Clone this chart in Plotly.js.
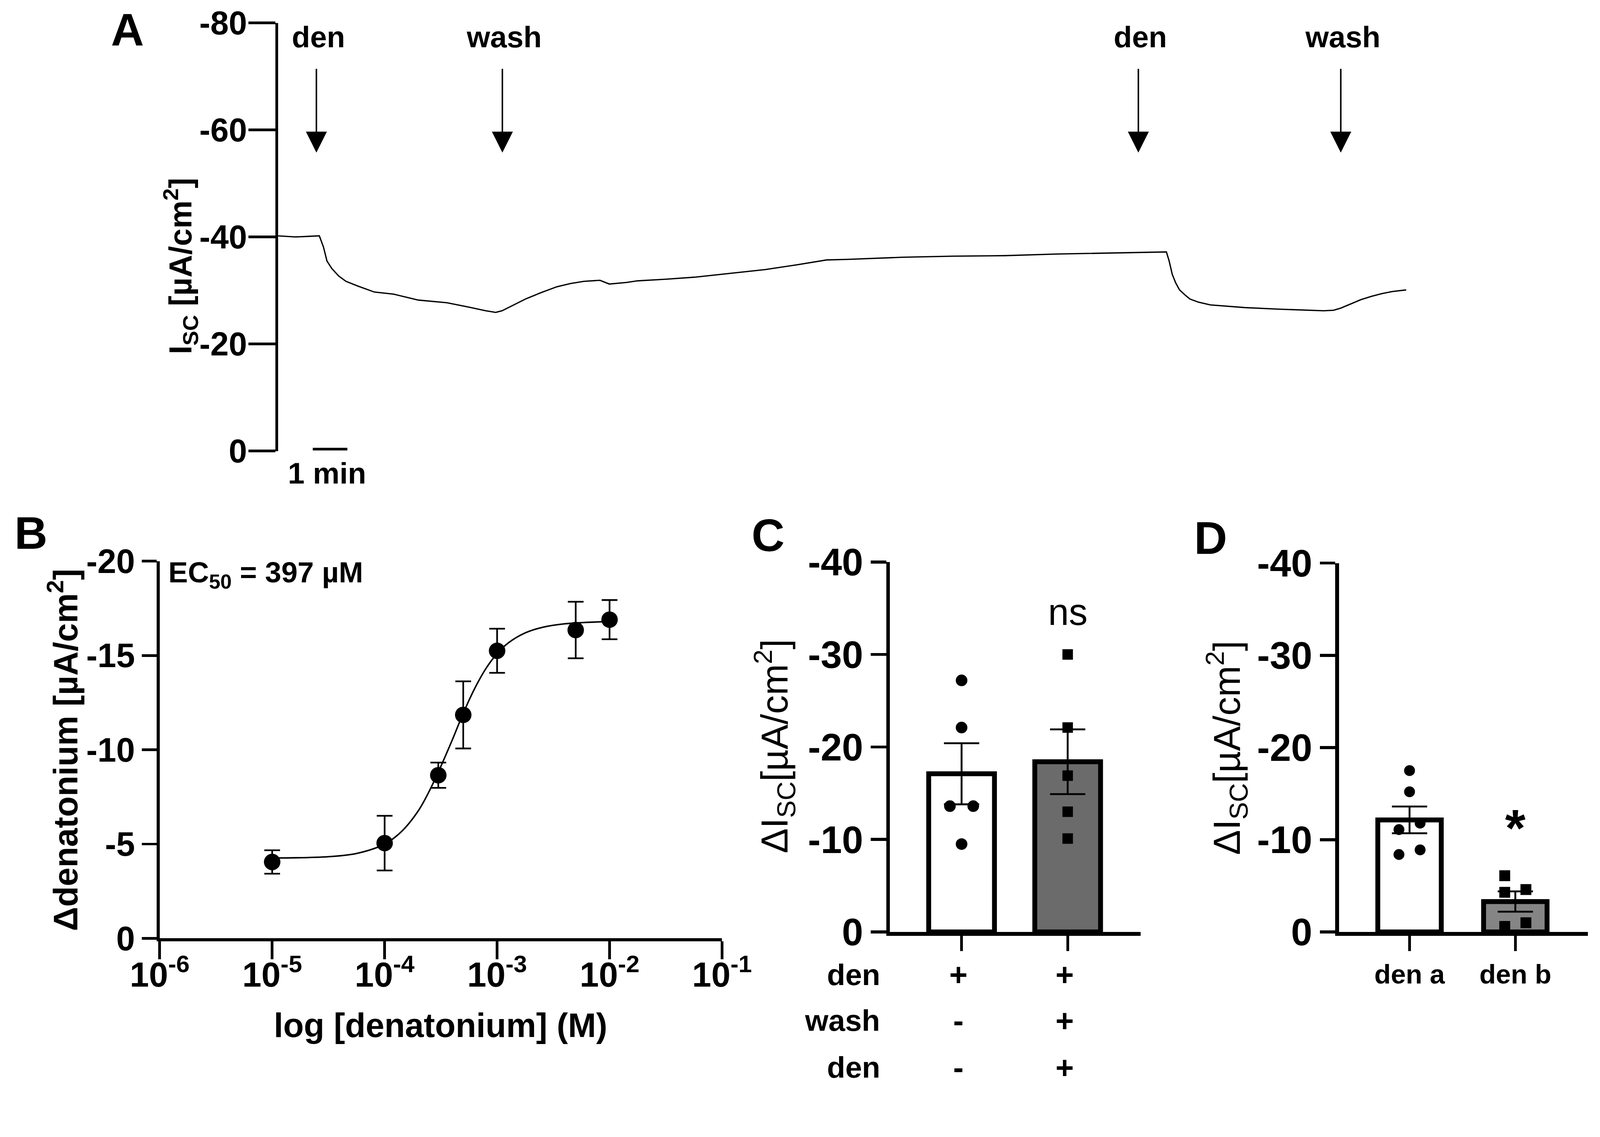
<!DOCTYPE html>
<html><head><meta charset="utf-8">
<script src="https://cdn.plot.ly/plotly-3.0.1.min.js"></script>
<style>html,body{margin:0;padding:0;background:#fff;overflow:hidden}</style>
</head><body><div id="chart"></div>
<script>
// ---------- Panel A: Isc trace ----------
const traceTime = [0, 0.5, 0.85, 1.19, 1.31, 1.41, 1.55, 1.75, 1.96, 2.31, 2.78, 3.34, 4.05, 4.88, 5.5, 6.0, 6.29, 6.47, 7.15, 7.6, 8.06, 8.45, 8.83, 9.3, 9.57, 10.07, 10.39, 11.2, 12.07, 13.1, 14.08, 15.0, 15.85, 16.44, 18.03, 19.5, 21.01, 22.5, 23.99, 25.0, 25.67, 25.75, 25.84, 25.94, 26.05, 26.2, 26.35, 26.6, 26.94, 27.94, 28.94, 30.21, 30.5, 30.71, 31.0, 31.3, 31.6, 31.89, 32.2, 32.6];
const traceIsc = [-40.2, -40.0, -40.1, -40.2, -38.1, -35.5, -34.1, -32.7, -31.7, -30.8, -29.7, -29.3, -28.2, -27.7, -26.9, -26.2, -25.9, -26.2, -28.4, -29.6, -30.7, -31.3, -31.7, -31.9, -31.2, -31.5, -31.8, -32.1, -32.5, -33.2, -33.9, -34.8, -35.7, -35.8, -36.2, -36.4, -36.5, -36.8, -37.0, -37.1, -37.2, -35.5, -33.0, -31.4, -30.1, -29.2, -28.4, -27.8, -27.3, -26.8, -26.5, -26.2, -26.3, -26.7, -27.5, -28.3, -28.9, -29.4, -29.8, -30.1];
const eventTimes = [1.105, 6.48, 24.86, 30.71];
const eventLabels = ['den', 'wash', 'den', 'wash'];
const aTickVals = [0, -20, -40, -60, -80];
const aTickText = ['0', '-20', '-40', '-60', '-80'];

// ---------- Panel B: dose response ----------
const bConc = [1e-5, 1e-4, 3e-4, 5e-4, 1e-3, 5e-3, 1e-2];
const bMean = [-4.05, -5.05, -8.65, -11.85, -15.25, -16.35, -16.9];
const bSem = [0.62, 1.45, 0.67, 1.78, 1.17, 1.5, 1.04];
const fitConc = [1e-5, 3.16e-5, 5.62e-5, 1e-4, 1.41e-4, 2e-4, 2.51e-4, 3.16e-4, 3.98e-4, 5.01e-4, 6.31e-4, 7.94e-4, 1e-3, 1.26e-3, 1.78e-3, 2.51e-3, 3.98e-3, 1e-2];
const fitVal = [-4.26, -4.33, -4.5, -5.0, -5.66, -6.78, -7.84, -9.12, -10.5, -11.95, -13.24, -14.3, -15.1, -15.67, -16.2, -16.49, -16.68, -16.8];
const bXTickVals = [1e-6, 1e-5, 1e-4, 1e-3, 1e-2, 1e-1];
const bXTickText = ['10<sup>-6</sup>', '10<sup>-5</sup>', '10<sup>-4</sup>', '10<sup>-3</sup>', '10<sup>-2</sup>', '10<sup>-1</sup>'];
const bYTickVals = [0, -5, -10, -15, -20];
const bYTickText = ['0', '-5', '-10', '-15', '-20'];

// ---------- Panel C ----------
const cMean = [-17.1, -18.4];
const cSem = [3.3, 3.5];
const cPoints1 = [-27.2, -22.1, -13.6, -13.6, -9.5];
const cPoints2 = [-30.0, -22.1, -16.9, -13.0, -10.1];
const cRowLabels = ['den', 'wash', 'den'];
const cCond1 = ['+', '-', '-'];
const cCond2 = ['+', '+', '+'];

// ---------- Panel D ----------
const dLabels = ['den a', 'den b'];
const dMean = [-12.15, -3.3];
const dSem = [1.45, 1.1];
const dPointsA = [-17.5, -15.2, -11.8, -11.1, -8.9, -8.4];
const dPointsB = [-6.1, -4.6, -4.3, -1.0, -0.6];

const cdTickVals = [0, -10, -20, -30, -40];
const cdTickText = ['0', '-10', '-20', '-30', '-40'];

// ---------- helpers ----------
const W = 4268, H = 2911;
const vw = window.innerWidth || W, vh = window.innerHeight || H;
const k = Math.min(vw / W, vh / H);          // fit the design to the real viewport
const S = v => v * k;
const fx = x => x / W, fy = y => 1 - y / H;
const FONT = 'Liberation Sans, Arial, Helvetica, sans-serif';
const fnt = (size, bold) => bold ? {size: S(size), family: FONT, color: 'black', weight: 'bold'}
                                 : {size: S(size), family: FONT, color: 'black'};

// simple beeswarm-like jitter: near values spread left/right
function jitter(vals, center, off, tol) {
  const idx = vals.map((v, i) => i).sort((a, b) => Math.abs(vals[a]) - Math.abs(vals[b]));
  const xs = new Array(vals.length).fill(center);
  let clusters = [], cur = [idx[0]];
  for (let j = 1; j < idx.length; j++) {
    if (Math.abs(Math.abs(vals[idx[j]]) - Math.abs(vals[idx[j - 1]])) <= tol) cur.push(idx[j]);
    else { clusters.push(cur); cur = [idx[j]]; }
  }
  clusters.push(cur);
  clusters.forEach(c => {
    if (c.length > 1) c.forEach((i, j) => { xs[i] = center + (j % 2 === 0 ? -off : off); });
  });
  return xs;
}

const traces = [];
// A
traces.push({x: traceTime, y: traceIsc, xaxis: 'x', yaxis: 'y', mode: 'lines',
  line: {color: 'black', width: S(3.5)}, hoverinfo: 'skip'});
// B
traces.push({x: fitConc, y: fitVal, xaxis: 'x2', yaxis: 'y2', mode: 'lines',
  line: {color: 'black', width: S(4), shape: 'spline'}, hoverinfo: 'skip'});
traces.push({x: bConc, y: bMean, xaxis: 'x2', yaxis: 'y2', mode: 'markers',
  marker: {color: 'black', size: S(44), symbol: 'circle'},
  error_y: {type: 'data', array: bSem, visible: true, color: 'black', thickness: S(4.5), width: S(21)},
  cliponaxis: false, hoverinfo: 'skip'});
// C
traces.push({type: 'bar', x: [0, 1], y: cMean, width: 0.62, xaxis: 'x3', yaxis: 'y3',
  marker: {color: ['#ffffff', '#6b6b6b'], line: {color: 'black', width: S(13)}},
  error_y: {type: 'data', array: cSem, visible: true, color: 'black', thickness: S(5), width: S(47)},
  hoverinfo: 'skip'});
traces.push({x: jitter(cPoints1, 0, 0.11, 1.6), y: cPoints1, xaxis: 'x3', yaxis: 'y3', mode: 'markers',
  marker: {color: 'black', size: S(31), symbol: 'circle'}, cliponaxis: false, hoverinfo: 'skip'});
traces.push({x: jitter(cPoints2, 1, 0.11, 1.6), y: cPoints2, xaxis: 'x3', yaxis: 'y3', mode: 'markers',
  marker: {color: 'black', size: S(28), symbol: 'square'}, cliponaxis: false, hoverinfo: 'skip'});
// D
traces.push({type: 'bar', x: [0, 1], y: dMean, width: 0.6, xaxis: 'x4', yaxis: 'y4',
  marker: {color: ['#ffffff', '#858585'], line: {color: 'black', width: S(13)}},
  error_y: {type: 'data', array: dSem, visible: true, color: 'black', thickness: S(5), width: S(47)},
  hoverinfo: 'skip'});
traces.push({x: jitter(dPointsA, 0, 0.1, 1.6), y: dPointsA, xaxis: 'x4', yaxis: 'y4', mode: 'markers',
  marker: {color: 'black', size: S(29), symbol: 'circle'}, cliponaxis: false, hoverinfo: 'skip'});
traces.push({x: jitter(dPointsB, 1, 0.1, 1.6), y: dPointsB, xaxis: 'x4', yaxis: 'y4', mode: 'markers',
  marker: {color: 'black', size: S(29), symbol: 'square'}, cliponaxis: false, hoverinfo: 'skip'});

// minor ticks for B log axis (2..9 in each decade)
const minorVals = [];
for (let e = -6; e < -1; e++) for (let m = 2; m <= 9; m++) minorVals.push(m * Math.pow(10, e));

const axBase = {showgrid: false, zeroline: false, showline: true, linecolor: 'black',
  ticks: 'outside', tickcolor: 'black', fixedrange: true};

const layout = {
  width: W * k, height: H * k, margin: {l: 0, r: 0, t: 0, b: 0, pad: 0},
  paper_bgcolor: 'white', plot_bgcolor: 'rgba(0,0,0,0)', showlegend: false, hovermode: false,
  font: {family: FONT, color: 'black', size: S(40)},
  bargap: 0,
  xaxis: {domain: [fx(742), fx(3800)], range: [0, (3800 - 742) / 92.3], visible: false, anchor: 'y', fixedrange: true},
  yaxis: Object.assign({}, axBase, {domain: [fy(1203), fy(61)], range: [0, -80], anchor: 'x',
    tickvals: aTickVals, ticktext: aTickText, ticklen: S(72), tickwidth: S(7), linewidth: S(7),
    ticklabelstandoff: -Math.round(S(14)), tickfont: fnt(88, true)}),
  xaxis2: Object.assign({}, axBase, {domain: [fx(426), fx(1926)], type: 'log', range: [-6, -1], anchor: 'y2',
    tickvals: bXTickVals, ticktext: bXTickText, ticklen: S(48), tickwidth: S(7), linewidth: S(8),
    ticklabelstandoff: -Math.round(S(38)), tickfont: fnt(92, true)}),
  xaxis5: {overlaying: 'x2', anchor: 'y2', type: 'log', range: [-6, -1], showgrid: false, zeroline: false,
    showline: false, ticks: 'outside', tickvals: minorVals, ticklen: S(24), tickwidth: S(5), tickcolor: 'black',
    showticklabels: false, fixedrange: true},
  yaxis2: Object.assign({}, axBase, {domain: [fy(2503), fy(1497)], range: [0, -20], anchor: 'x2',
    tickvals: bYTickVals, ticktext: bYTickText, ticklen: S(40), tickwidth: S(7), linewidth: S(8),
    tickfont: fnt(90, true)}),
  xaxis3: Object.assign({}, axBase, {domain: [fx(2374), fx(3043)], range: [-0.675, 1.689], anchor: 'y3',
    tickvals: [0, 1], showticklabels: false, ticklen: S(41), tickwidth: S(7), linewidth: S(10)}),
  yaxis3: Object.assign({}, axBase, {domain: [fy(2486), fy(1499)], range: [0, -40], anchor: 'x3',
    tickvals: cdTickVals, ticktext: cdTickText, ticklen: S(41), tickwidth: S(8), linewidth: S(10),
    tickfont: fnt(102, true)}),
  xaxis4: Object.assign({}, axBase, {domain: [fx(3572), fx(4236)], range: [-0.666, 1.687], anchor: 'y4',
    tickvals: [0, 1], ticktext: dLabels, ticklen: S(41), tickwidth: S(7), linewidth: S(10),
    tickfont: fnt(72, true)}),
  yaxis4: Object.assign({}, axBase, {domain: [fy(2486), fy(1502)], range: [0, -40], anchor: 'x4',
    tickvals: cdTickVals, ticktext: cdTickText, ticklen: S(41), tickwidth: S(8), linewidth: S(10),
    tickfont: fnt(102, true)}),
  shapes: [
    {type: 'line', xref: 'x', yref: 'y', x0: 1.0, x1: 2.0, y0: -0.35, y1: -0.35, line: {color: 'black', width: S(7)}}
  ],
  annotations: []
};

function txt(text, x, y, size, bold, opts) {
  return Object.assign({text: text, x: fx(x), y: fy(y), xref: 'paper', yref: 'paper', showarrow: false,
    xanchor: 'center', yanchor: 'middle', font: fnt(size, bold)}, opts || {});
}
const A = layout.annotations;
// panel letters
[['A', 340, 80], ['B', 83, 1422], ['C', 2049, 1428], ['D', 3230, 1435]].forEach(p =>
  A.push(txt(p[0], p[1], p[2], 122, true)));

// Panel A titles and events
A.push(txt('I<sub>SC</sub> [µA/cm<sup>2</sup>]', 482, 710, 84, true, {textangle: -90}));
eventTimes.forEach((t, i) => {
  A.push({x: t, y: fy(407), xref: 'x', yref: 'paper', text: '', showarrow: true, ax: 0, ay: -S(225),
    arrowhead: 2, arrowsize: 2.8, arrowwidth: S(4), arrowcolor: 'black', standoff: 0, startstandoff: 0});
  A.push({x: t, y: fy(98), xref: 'x', yref: 'paper', text: eventLabels[i], showarrow: false,
    xanchor: 'center', yanchor: 'middle', xshift: S(5), font: fnt(80, true)});
});
A.push(txt('1 min', 873, 1262, 80, true));

// Panel B
A.push(txt('Δdenatonium [µA/cm<sup>2</sup>]', 168, 2000, 90, true, {textangle: -90}));
A.push(txt('log [denatonium] (M)', 1175, 2735, 90, true));
A.push(txt('EC<sub>50</sub> = 397 µM', 447, 1532, 78, true, {xanchor: 'left'}));

// Panel C
A.push(txt('ΔI<sub>SC</sub>[µA/cm<sup>2</sup>]', 2065, 1990, 100, false, {textangle: -90}));
A.push({x: 1, y: -34.6, xref: 'x3', yref: 'y3', text: 'ns', showarrow: false, xanchor: 'center', yanchor: 'middle',
  font: fnt(100, false)});
const rowY = [2600, 2722, 2847];
cRowLabels.forEach((lab, i) => {
  A.push(txt(lab, 2350, rowY[i], 80, true, {xanchor: 'right'}));
  [cCond1[i], cCond2[i]].forEach((s, j) => {
    A.push({x: j, y: fy(rowY[i]), xref: 'x3', yref: 'paper', text: s, showarrow: false, xanchor: 'center',
      yanchor: 'middle', xshift: -S(8), font: fnt(84, true)});
  });
});

// Panel D
A.push(txt('ΔI<sub>SC</sub>[µA/cm<sup>2</sup>]', 3272, 1995, 100, false, {textangle: -90}));
A.push({x: 1, y: -11.3, xref: 'x4', yref: 'y4', text: '*', showarrow: false, xanchor: 'center', yanchor: 'middle',
  font: fnt(140, true)});

const el = document.getElementById('chart');
el.style.width = (W * k) + 'px';
el.style.height = (H * k) + 'px';
Plotly.newPlot(el, traces, layout, {staticPlot: true, displayModeBar: false});
</script></body></html>
